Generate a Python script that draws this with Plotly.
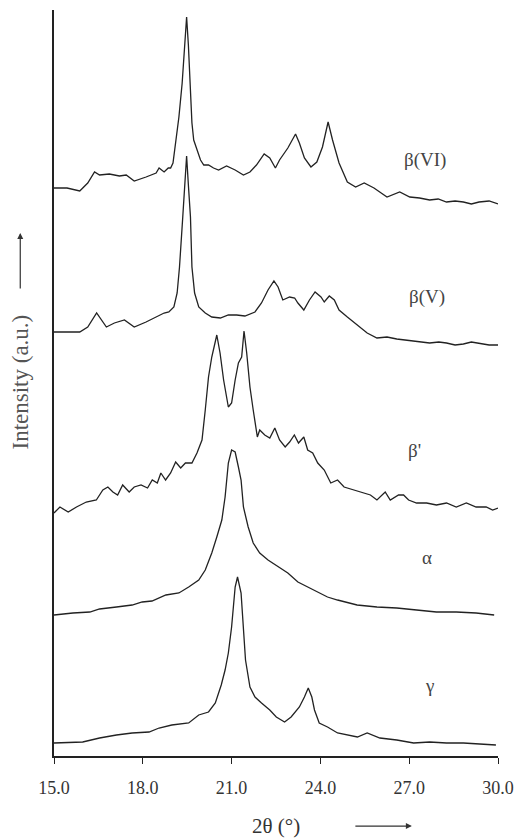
import plotly.graph_objects as go

# ---- data (2θ in degrees, intensity in arbitrary units, curves stacked) ----
x_b6 = [15.0, 15.44, 15.87, 16.14, 16.37, 16.54, 16.87, 17.21, 17.44, 17.71, 18.11, 18.45, 18.55, 18.72,
        18.86, 18.94, 19.02, 19.11, 19.22, 19.33, 19.40, 19.48, 19.54, 19.61, 19.66, 19.72, 19.83, 19.95,
        20.06, 20.22, 20.39, 20.56, 20.83, 21.12, 21.40, 21.62, 21.84, 22.10, 22.29, 22.48, 22.62, 22.90,
        23.16, 23.29, 23.46, 23.68, 23.88, 24.07, 24.26, 24.41, 24.63, 24.91, 25.19, 25.48, 25.81, 26.25,
        26.68, 27.02, 27.35, 27.69, 27.98, 28.26, 28.55, 28.83, 29.10, 29.36, 29.70, 30.0]
y_b6 = [568, 568, 565, 573, 584, 581, 582, 580, 581, 575, 579, 583, 588, 584,
        588, 588, 593, 613, 639, 673, 706, 739, 711, 673, 633, 616, 606, 596,
        591, 591, 588, 586, 590, 586, 581, 584, 591, 602, 598, 588, 596, 608,
        622, 613, 598, 589, 594, 609, 634, 616, 593, 574, 569, 573, 568, 559,
        564, 559, 558, 556, 557, 554, 555, 554, 552, 554, 555, 552]

x_b5 = [15.0, 15.87, 16.14, 16.44, 16.77, 17.04, 17.38, 17.71, 18.11, 18.48, 18.72, 18.88, 19.05, 19.16,
        19.24, 19.35, 19.42, 19.48, 19.54, 19.61, 19.66, 19.75, 19.89, 20.11, 20.33, 20.62, 20.89, 21.17,
        21.45, 21.79, 22.01, 22.23, 22.43, 22.57, 22.73, 22.96, 23.13, 23.24, 23.44, 23.63, 23.82, 24.02,
        24.13, 24.30, 24.47, 24.63, 24.91, 25.25, 25.58, 25.91, 26.25, 26.58, 26.90, 27.15, 27.45, 27.69,
        28.00, 28.26, 28.55, 28.83, 29.10, 29.36, 29.70, 30.0]
y_b5 = [424, 424, 429, 443, 429, 433, 436, 429, 434, 439, 443, 444, 449, 463,
        489, 539, 571, 600, 571, 539, 489, 463, 449, 443, 439, 438, 441, 441,
        440, 444, 453, 466, 475, 469, 456, 459, 458, 453, 446, 456, 464, 459,
        454, 460, 456, 446, 439, 431, 423, 418, 419, 417, 416, 415, 414, 413,
        414, 413, 411, 412, 414, 413, 411, 411]

x_bp = [15.0, 15.20, 15.48, 15.76, 16.09, 16.43, 16.65, 16.82, 16.99, 17.15, 17.32, 17.54, 17.71, 17.94,
        18.16, 18.32, 18.49, 18.61, 18.77, 18.94, 19.11, 19.28, 19.44, 19.66, 19.83, 20.00, 20.11, 20.22,
        20.33, 20.50, 20.61, 20.73, 20.89, 21.00, 21.12, 21.23, 21.34, 21.42, 21.51, 21.62, 21.73, 21.87,
        21.95, 22.12, 22.29, 22.46, 22.62, 22.81, 22.96, 23.12, 23.26, 23.44, 23.57, 23.74, 23.91, 24.13,
        24.35, 24.58, 24.80, 25.13, 25.36, 25.69, 25.91, 26.19, 26.36, 26.64, 26.81, 26.98, 27.25, 27.59,
        27.92, 28.26, 28.59, 28.93, 29.26, 29.60, 29.82, 30.0]
y_bp = [243, 249, 244, 249, 254, 256, 266, 269, 264, 261, 271, 264, 269, 271,
        268, 276, 273, 283, 276, 283, 294, 288, 293, 293, 303, 316, 346, 379,
        399, 421, 403, 376, 349, 353, 376, 393, 399, 425, 403, 369, 346, 319,
        326, 321, 318, 328, 316, 309, 314, 321, 313, 319, 306, 303, 293, 286,
        273, 276, 269, 266, 264, 261, 256, 264, 256, 261, 261, 256, 253, 253,
        251, 253, 249, 253, 249, 249, 246, 248]

x_a = [15.0, 15.64, 16.21, 16.54, 17.11, 17.64, 17.98, 18.31, 18.78, 19.22, 19.55, 19.89, 20.11, 20.33,
       20.50, 20.67, 20.78, 20.89, 21.00, 21.12, 21.23, 21.32, 21.40, 21.56, 21.73, 21.95, 22.23, 22.57,
       22.90, 23.24, 23.57, 24.02, 24.24, 24.58, 25.24, 25.91, 26.58, 27.25, 27.92, 28.59, 29.26, 29.87]
y_a = [141, 143, 144, 147, 149, 151, 154, 155, 161, 163, 169, 176, 186, 203,
       219, 236, 259, 293, 306, 304, 289, 276, 249, 229, 213, 203, 196, 189,
       183, 174, 169, 163, 159, 156, 151, 149, 148, 146, 144, 144, 143, 141]

x_g = [15.0, 15.97, 16.54, 17.11, 17.64, 18.21, 18.55, 18.98, 19.55, 19.89, 20.22, 20.45, 20.65, 20.78,
       20.89, 21.00, 21.12, 21.20, 21.32, 21.40, 21.47, 21.62, 21.79, 22.01, 22.29, 22.51, 22.79, 23.01,
       23.29, 23.46, 23.59, 23.71, 23.80, 23.96, 24.24, 24.58, 24.91, 25.25, 25.58, 26.01, 26.58, 27.15,
       27.69, 28.26, 28.83, 29.93]
y_g = [13, 14, 18, 21, 23, 24, 28, 31, 33, 41, 44, 53, 71, 86,
       103, 129, 169, 179, 163, 129, 96, 69, 59, 53, 46, 39, 34, 39,
       49, 59, 68, 59, 46, 33, 29, 23, 21, 19, 23, 18, 16, 13,
       14, 13, 13, 11]

series = [("β(VI)", x_b6, y_b6), ("β(V)", x_b5, y_b5), ("β'", x_bp, y_bp), ("α", x_a, y_a), ("γ", x_g, y_g)]
label_pos = {"β(VI)": (27.52, 596), "β(V)": (27.59, 459), "β'": (27.19, 306), "α": (27.59, 199), "γ": (27.69, 71)}

tick_vals = [15, 18, 21, 24, 27, 30]
tick_text = ["15.0", "18.0", "21.0", "24.0", "27.0", "30.0"]

FONT = "Liberation Serif"
INK = "#222222"

fig = go.Figure()
for name, xs, ys in series:
    fig.add_trace(go.Scatter(x=xs, y=ys, mode="lines", name=name,
                             line=dict(color=INK, width=1.3), showlegend=False))

annotations = []
for name, (lx, ly) in label_pos.items():
    annotations.append(dict(x=lx, y=ly, xref="x", yref="y", text=name, showarrow=False,
                            font=dict(family=FONT, size=19, color="#444")))

# axis titles and arrows
annotations.append(dict(x=0.5, y=-0.094, xref="paper", yref="paper", text="2θ (°)", showarrow=False,
                        xanchor="center", yanchor="middle",
                        font=dict(family=FONT, size=21, color="#333")))
annotations.append(dict(x=0.806, y=-0.094, xref="paper", yref="paper", text="", showarrow=True,
                        ax=-58, ay=0, arrowhead=2, arrowsize=1, arrowwidth=1.2, arrowcolor="#333"))
annotations.append(dict(x=-0.076, y=0.501, xref="paper", yref="paper", text="Intensity (a.u.)",
                        xanchor="center", yanchor="middle",
                        showarrow=False, textangle=-90, font=dict(family=FONT, size=23, color="#555")))
annotations.append(dict(x=-0.076, y=0.701, xref="paper", yref="paper", text="", showarrow=True,
                        ax=0, ay=57, arrowhead=2, arrowsize=1, arrowwidth=1.2, arrowcolor="#333"))

fig.update_layout(
    width=524, height=838,
    margin=dict(l=54, r=22, t=10, b=82),
    paper_bgcolor="white", plot_bgcolor="white",
    annotations=annotations,
    xaxis=dict(range=[15, 30], tickvals=tick_vals, ticktext=tick_text, showgrid=False, zeroline=False,
               showline=True, linecolor=INK, linewidth=1.5, ticks="outside", ticklen=6, tickwidth=1.2,
               tickcolor=INK, ticklabelstandoff=9,
               tickfont=dict(family=FONT, size=18, color="#333")),
    yaxis=dict(range=[0, 746], showgrid=False, zeroline=False, showticklabels=False,
               showline=True, linecolor=INK, linewidth=1.5, ticks=""),
)

fig.write_html("out.html", config={"displayModeBar": False},
               post_script="document.body.style.margin='0';document.body.style.padding='0';")
